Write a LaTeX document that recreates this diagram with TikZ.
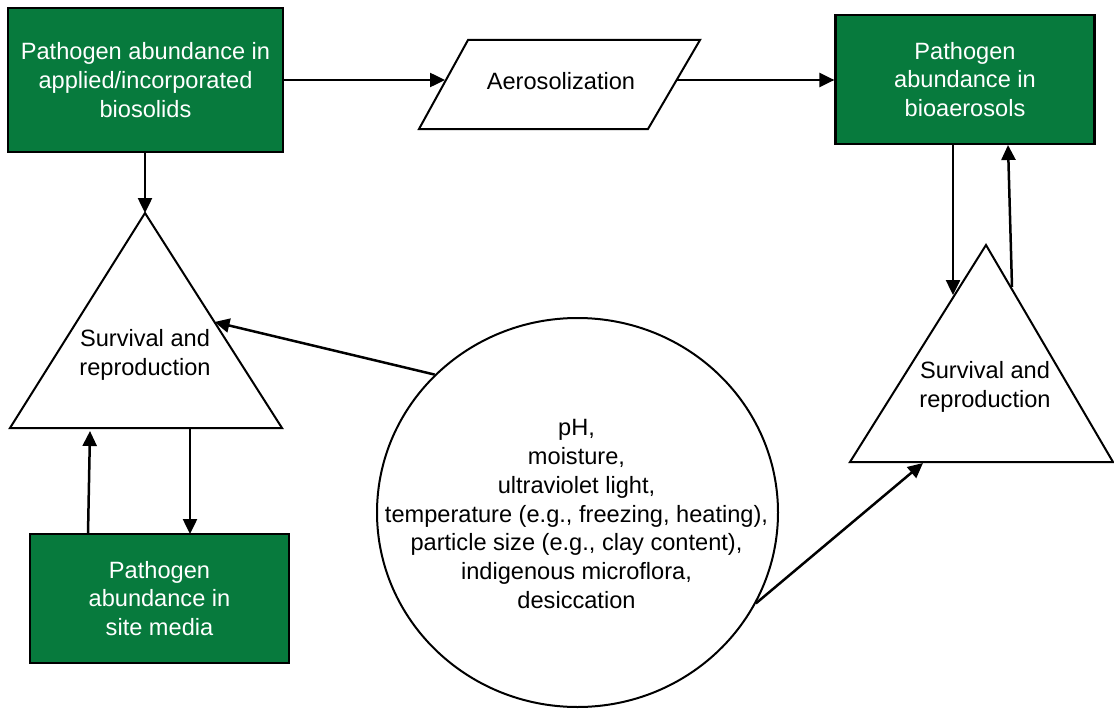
\documentclass[tikz,border=0pt]{standalone}
\usepackage{fontspec}
\setmainfont{Liberation Sans}
\usetikzlibrary{arrows.meta,shapes.geometric}
\definecolor{boxgreen}{RGB}{7,122,61}
\begin{document}
\begin{tikzpicture}[x=1pt,y=-1pt,
  txt/.style={align=center, inner sep=0pt, font=\fontsize{23.6}{28.8}\selectfont},
  gbox/.style={txt, draw=black, fill=boxgreen, text=white, line width=2.2pt},
  shp/.style={draw=black, fill=white, line width=2pt, line join=miter},
  arr/.style={-{Triangle[length=15pt,width=14pt]}, line width=2.5pt}]
\useasboundingbox (0,0) rectangle (1114,709);

% green boxes
\node[gbox, minimum width=275pt, minimum height=144pt] (b1) at (145.5,80)
  {Pathogen abundance in\\applied/incorporated\\biosolids};
\node[gbox, minimum width=259pt, minimum height=129pt] (b3) at (965,79.5)
  {Pathogen\\abundance in\\bioaerosols};
\node[gbox, minimum width=259pt, minimum height=129pt] (b2) at (159.5,598.5)
  {Pathogen\\abundance in\\site media};

% parallelogram
\coordinate (pTL) at (468,40);
\coordinate (pTR) at (700,40);
\coordinate (pBR) at (648,129);
\coordinate (pBL) at (419,129);
\draw[shp] (pTL) -- (pTR) -- (pBR) -- (pBL) -- cycle;
\node[txt] (aero) at (561,81) {Aerosolization};
\coordinate (pL) at (445,80);
\coordinate (pR) at (677,80);

% left triangle
\coordinate (lA) at (145,213);
\coordinate (lL) at (10,428);
\coordinate (lR) at (282,428);
\draw[shp] (lA) -- (lR) -- (lL) -- cycle;
\node[txt] (lsr) at (145,355) {Survival and\\reproduction};

% right triangle
\coordinate (rA) at (986,245);
\coordinate (rL) at (850,462);
\coordinate (rR) at (1113,462);
\draw[shp] (rA) -- (rR) -- (rL) -- cycle;
\node[txt] (rsr) at (985,387) {Survival and\\reproduction};

% factors ellipse
\node[draw=black, fill=white, line width=2pt, ellipse, inner sep=0pt,
  minimum width=401pt, minimum height=389pt] (fac) at (577.5,512.5) {};
\node[txt] (factxt) at (576.5,514) {pH,\\moisture,\\ultraviolet light,\\temperature (e.g., freezing, heating),\\particle size (e.g., clay content),\\indigenous microflora,\\desiccation};

% arrow end points
\coordinate (b1s) at (145,152);
\coordinate (l1) at (214.5,322);
\coordinate (lbUpS) at (88,534);
\coordinate (lbUpE) at (90,431);
\coordinate (lbDnS) at (190,429);
\coordinate (lbDnE) at (190,534);
\coordinate (rDnS) at (953,144);
\coordinate (rDnE) at (953,295);
\coordinate (rUpS) at (1012,287);
\coordinate (rUpE) at (1008,145);
\coordinate (r1) at (923,463);

% connectors
\draw[arr] (b1.east |- pL) -- (pL);
\draw[arr] (pR) -- (b3.west |- pR);
\draw[arr] (b1s) -- (lA);
\draw[arr] (fac.136) -- (l1);
\draw[arr] (fac.-27) -- (r1);
\draw[arr] (lbUpS) -- (lbUpE);
\draw[arr] (lbDnS) -- (lbDnE);
\draw[arr] (rDnS) -- (rDnE);
\draw[arr] (rUpS) -- (rUpE);
\end{tikzpicture}
\end{document}
